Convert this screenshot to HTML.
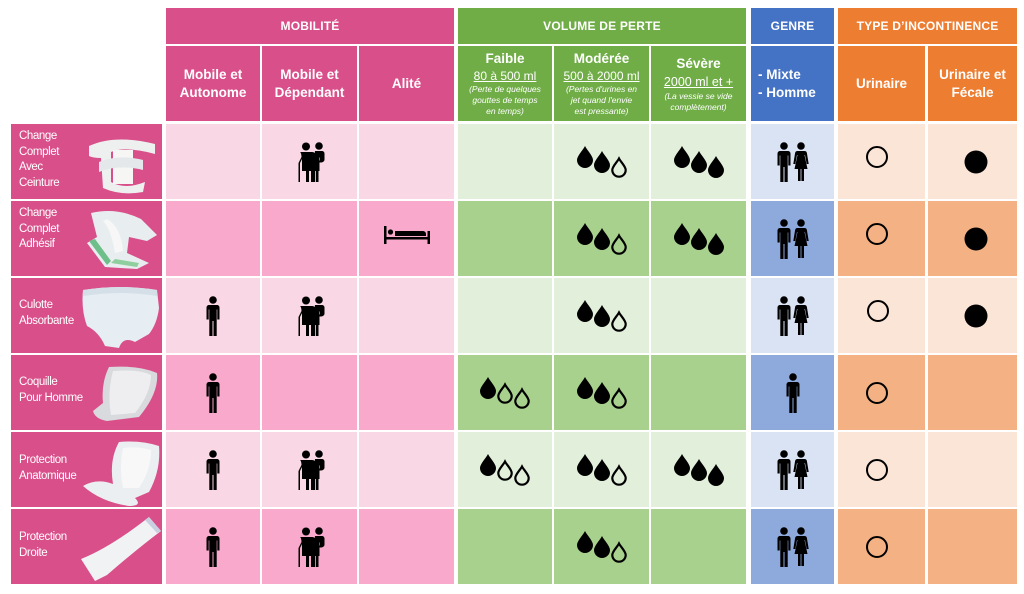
<!DOCTYPE html>
<html><head><meta charset="utf-8">
<style>
*{margin:0;padding:0;box-sizing:border-box}
body{width:1024px;height:594px;background:#fff;position:relative;overflow:hidden;font-family:"Liberation Sans",sans-serif}
.c{position:absolute;display:flex;align-items:center;justify-content:center;text-align:center;color:#fff}
.h1{font-weight:bold;font-size:12px;letter-spacing:0.2px}
.h2{font-weight:bold;font-size:13.5px;line-height:18px;flex-direction:column}
.u{text-decoration:underline;font-weight:normal;font-size:12px;line-height:16px}
.it{font-style:italic;font-weight:normal;font-size:8.5px;line-height:11px}
.lab{position:absolute;background:#d94f8a;color:#fff;font-size:11.5px;line-height:15.5px;letter-spacing:-0.4px}
.lab span{position:absolute;left:8px}
.lab svg{position:absolute}
</style></head><body>
<svg width="0" height="0" style="position:absolute">
<defs>
<symbol id="p" viewBox="0 0 14 40"><circle cx="7" cy="4" r="3.8"/><path d="M3 9h8a2.5 2.5 0 0 1 2.5 2.5v12h-2.2v-10h-.6v26.5h-3.2v-15h-1v15h-3.2v-26.5h-.6v10h-2.2v-12a2.5 2.5 0 0 1 2.5-2.5z"/></symbol>
<symbol id="w" viewBox="0 0 16 40"><circle cx="8" cy="4" r="3.8"/><path d="M4.5 9h7a2.5 2.5 0 0 1 2.4 2l1.8 11h-2l-1.7-9h-.5l3 14h-3.5v12h-2.6v-12h-.8v12h-2.6v-12h-3.5l3-14h-.5l-1.7 9h-2l1.8-11a2.5 2.5 0 0 1 2.4-2z"/></symbol>
<symbol id="e" viewBox="0 0 36 40"><circle cx="14" cy="4.5" r="4"/><circle cx="27" cy="4" r="3.8"/><path d="M8 10h12c3 0 5 3 5 6v13h-3v11h-3v-11h-2v11h-3v-11h-4v-12l-2 4v19h-1.5v-19l3-6c0-3 -1-5 -1.5-5z"/><path d="M23 9h7a2.5 2.5 0 0 1 2.5 2.5v6c0 2-2 3-4 3h-5v-2h4.5v-3h-.5v13.5h-1v11h-2.6v-11h-.8v11h-2.6v-11z"/></symbol>
<symbol id="b" viewBox="0 0 46 18"><rect x="0" y="0" width="2.5" height="18"/><rect x="43.5" y="5" width="2.5" height="13"/><rect x="0" y="11" width="46" height="2.5"/><circle cx="6.5" cy="6" r="2.6"/><path d="M11 5h28a3 3 0 0 1 3 3v2h-31z"/></symbol>
<symbol id="df" viewBox="0 0 16 22"><path d="M8 0C6 4 0 10 0 14a8 8 0 0 0 16 0C16 10 10 4 8 0z"/></symbol>
<symbol id="do" viewBox="0 0 16 22"><path d="M8 2.5C6.2 6 1.3 10.5 1.3 14a6.7 6.7 0 0 0 13.4 0C14.7 10.5 9.8 6 8 2.5z" fill="none" stroke="#000" stroke-width="2.2"/></symbol>
<symbol id="d21" viewBox="0 0 50 32"><use href="#df" x="0" y="0" width="16" height="22"/><use href="#df" x="17" y="5" width="16" height="22"/><use href="#do" x="34" y="10" width="16" height="22"/></symbol>
<symbol id="d30" viewBox="0 0 50 32"><use href="#df" x="0" y="0" width="16" height="22"/><use href="#df" x="17" y="5" width="16" height="22"/><use href="#df" x="34" y="10" width="16" height="22"/></symbol>
<symbol id="d12" viewBox="0 0 50 32"><use href="#df" x="0" y="0" width="16" height="22"/><use href="#do" x="17" y="5" width="16" height="22"/><use href="#do" x="34" y="10" width="16" height="22"/></symbol>
<symbol id="mw" viewBox="0 0 32 40"><use href="#p" x="0" y="0" width="14" height="40"/><use href="#w" x="16" y="0" width="16" height="40"/></symbol>
</defs></svg>

<!-- Header row 1 -->
<div class="c h1" style="left:166px;top:8px;width:288px;height:36px;background:#d94f8a">MOBILITÉ</div>
<div class="c h1" style="left:458px;top:8px;width:288px;height:36px;background:#70ad47">VOLUME DE PERTE</div>
<div class="c h1" style="left:751px;top:8px;width:83px;height:36px;background:#4472c4">GENRE</div>
<div class="c h1" style="left:838px;top:8px;width:179px;height:36px;background:#ed7d31">TYPE D’INCONTINENCE</div>

<!-- Header row 2 -->
<div class="c h2" style="left:166px;top:46px;width:94px;height:75px;background:#d94f8a">Mobile et<br>Autonome</div>
<div class="c h2" style="left:262px;top:46px;width:95px;height:75px;background:#d94f8a">Mobile et<br>Dépendant</div>
<div class="c h2" style="left:359px;top:46px;width:95px;height:75px;background:#d94f8a">Alité</div>
<div class="c h2" style="left:458px;top:46px;width:94px;height:75px;background:#70ad47;justify-content:flex-start;padding-top:4px">Faible<span class="u">80 à 500 ml</span><span class="it">(Perte de quelques<br>gouttes de temps<br>en temps)</span></div>
<div class="c h2" style="left:554px;top:46px;width:95px;height:75px;background:#70ad47;justify-content:flex-start;padding-top:4px">Modérée<span class="u">500 à 2000 ml</span><span class="it">(Pertes d'urines en<br>jet quand l'envie<br>est pressante)</span></div>
<div class="c h2" style="left:651px;top:46px;width:95px;height:75px;background:#70ad47;justify-content:flex-start;padding-top:9px">Sévère<span class="u" style="font-size:12.5px;line-height:18px">2000 ml et +</span><span class="it">(La vessie se vide<br>complètement)</span></div>
<div class="c h2" style="left:751px;top:46px;width:83px;height:75px;background:#4472c4;align-items:flex-start;padding-left:7px;text-align:left">- Mixte<br>- Homme</div>
<div class="c h2" style="left:838px;top:46px;width:87px;height:75px;background:#ed7d31">Urinaire</div>
<div class="c h2" style="left:928px;top:46px;width:89px;height:75px;background:#ed7d31">Urinaire et<br>Fécale</div>

<!-- Body cells: rows -->
<!-- Row backgrounds -->
<div style="position:absolute;left:0;top:0">
<!-- rows light: 124,278,432 ; dark: 201,355,509 -->
</div>

<!-- Row 1 (light) -->
<div class="c" style="left:166px;top:124px;width:94px;height:75px;background:#fad7e5"></div>
<div class="c" style="left:262px;top:124px;width:95px;height:75px;background:#fad7e5"><svg width="36" height="40"><use href="#e"/></svg></div>
<div class="c" style="left:359px;top:124px;width:95px;height:75px;background:#fad7e5"></div>
<div class="c" style="left:458px;top:124px;width:94px;height:75px;background:#e2efda"></div>
<div class="c" style="left:554px;top:124px;width:95px;height:75px;background:#e2efda"><svg width="50" height="32"><use href="#d21"/></svg></div>
<div class="c" style="left:651px;top:124px;width:95px;height:75px;background:#e2efda"><svg width="50" height="32"><use href="#d30"/></svg></div>
<div class="c" style="left:751px;top:124px;width:83px;height:75px;background:#dae3f3"><svg width="32" height="40"><use href="#mw"/></svg></div>
<div class="c" style="left:838px;top:124px;width:87px;height:75px;background:#fbe5d6"><svg width="24" height="24" style="margin-top:-10px;margin-left:-10px"><circle cx="12" cy="12" r="10" fill="none" stroke="#000" stroke-width="2"/></svg></div>
<div class="c" style="left:928px;top:124px;width:89px;height:75px;background:#fbe5d6"><svg width="26" height="26" style="margin-left:6px"><circle cx="13" cy="13" r="11.5"/></svg></div>

<!-- Row 2 (dark) -->
<div class="c" style="left:166px;top:201px;width:94px;height:75px;background:#f9a9cb"></div>
<div class="c" style="left:262px;top:201px;width:95px;height:75px;background:#f9a9cb"></div>
<div class="c" style="left:359px;top:201px;width:95px;height:75px;background:#f9a9cb"><svg width="46" height="18" style="margin-top:-8px"><use href="#b"/></svg></div>
<div class="c" style="left:458px;top:201px;width:94px;height:75px;background:#a9d18e"></div>
<div class="c" style="left:554px;top:201px;width:95px;height:75px;background:#a9d18e"><svg width="50" height="32"><use href="#d21"/></svg></div>
<div class="c" style="left:651px;top:201px;width:95px;height:75px;background:#a9d18e"><svg width="50" height="32"><use href="#d30"/></svg></div>
<div class="c" style="left:751px;top:201px;width:83px;height:75px;background:#8eaadc"><svg width="32" height="40"><use href="#mw"/></svg></div>
<div class="c" style="left:838px;top:201px;width:87px;height:75px;background:#f4b183"><svg width="24" height="24" style="margin-top:-10px;margin-left:-10px"><circle cx="12" cy="12" r="10" fill="none" stroke="#000" stroke-width="2"/></svg></div>
<div class="c" style="left:928px;top:201px;width:89px;height:75px;background:#f4b183"><svg width="26" height="26" style="margin-left:6px"><circle cx="13" cy="13" r="11.5"/></svg></div>

<!-- Row 3 (light) -->
<div class="c" style="left:166px;top:278px;width:94px;height:75px;background:#fad7e5"><svg width="14" height="40"><use href="#p"/></svg></div>
<div class="c" style="left:262px;top:278px;width:95px;height:75px;background:#fad7e5"><svg width="36" height="40"><use href="#e"/></svg></div>
<div class="c" style="left:359px;top:278px;width:95px;height:75px;background:#fad7e5"></div>
<div class="c" style="left:458px;top:278px;width:94px;height:75px;background:#e2efda"></div>
<div class="c" style="left:554px;top:278px;width:95px;height:75px;background:#e2efda"><svg width="50" height="32"><use href="#d21"/></svg></div>
<div class="c" style="left:651px;top:278px;width:95px;height:75px;background:#e2efda"></div>
<div class="c" style="left:751px;top:278px;width:83px;height:75px;background:#dae3f3"><svg width="32" height="40"><use href="#mw"/></svg></div>
<div class="c" style="left:838px;top:278px;width:87px;height:75px;background:#fbe5d6"><svg width="24" height="24" style="margin-top:-10px;margin-left:-8px"><circle cx="12" cy="12" r="10" fill="none" stroke="#000" stroke-width="2"/></svg></div>
<div class="c" style="left:928px;top:278px;width:89px;height:75px;background:#fbe5d6"><svg width="26" height="26" style="margin-left:6px"><circle cx="13" cy="13" r="11.5"/></svg></div>

<!-- Row 4 (dark) -->
<div class="c" style="left:166px;top:355px;width:94px;height:75px;background:#f9a9cb"><svg width="14" height="40"><use href="#p"/></svg></div>
<div class="c" style="left:262px;top:355px;width:95px;height:75px;background:#f9a9cb"></div>
<div class="c" style="left:359px;top:355px;width:95px;height:75px;background:#f9a9cb"></div>
<div class="c" style="left:458px;top:355px;width:94px;height:75px;background:#a9d18e"><svg width="50" height="32"><use href="#d12"/></svg></div>
<div class="c" style="left:554px;top:355px;width:95px;height:75px;background:#a9d18e"><svg width="50" height="32"><use href="#d21"/></svg></div>
<div class="c" style="left:651px;top:355px;width:95px;height:75px;background:#a9d18e"></div>
<div class="c" style="left:751px;top:355px;width:83px;height:75px;background:#8eaadc"><svg width="14" height="40"><use href="#p"/></svg></div>
<div class="c" style="left:838px;top:355px;width:87px;height:75px;background:#f4b183"><svg width="24" height="24" style="margin-left:-10px"><circle cx="12" cy="12" r="10" fill="none" stroke="#000" stroke-width="2"/></svg></div>
<div class="c" style="left:928px;top:355px;width:89px;height:75px;background:#f4b183"></div>

<!-- Row 5 (light) -->
<div class="c" style="left:166px;top:432px;width:94px;height:75px;background:#fad7e5"><svg width="14" height="40"><use href="#p"/></svg></div>
<div class="c" style="left:262px;top:432px;width:95px;height:75px;background:#fad7e5"><svg width="36" height="40"><use href="#e"/></svg></div>
<div class="c" style="left:359px;top:432px;width:95px;height:75px;background:#fad7e5"></div>
<div class="c" style="left:458px;top:432px;width:94px;height:75px;background:#e2efda"><svg width="50" height="32"><use href="#d12"/></svg></div>
<div class="c" style="left:554px;top:432px;width:95px;height:75px;background:#e2efda"><svg width="50" height="32"><use href="#d21"/></svg></div>
<div class="c" style="left:651px;top:432px;width:95px;height:75px;background:#e2efda"><svg width="50" height="32"><use href="#d30"/></svg></div>
<div class="c" style="left:751px;top:432px;width:83px;height:75px;background:#dae3f3"><svg width="32" height="40"><use href="#mw"/></svg></div>
<div class="c" style="left:838px;top:432px;width:87px;height:75px;background:#fbe5d6"><svg width="24" height="24" style="margin-left:-10px"><circle cx="12" cy="12" r="10" fill="none" stroke="#000" stroke-width="2"/></svg></div>
<div class="c" style="left:928px;top:432px;width:89px;height:75px;background:#fbe5d6"></div>

<!-- Row 6 (dark) -->
<div class="c" style="left:166px;top:509px;width:94px;height:75px;background:#f9a9cb"><svg width="14" height="40"><use href="#p"/></svg></div>
<div class="c" style="left:262px;top:509px;width:95px;height:75px;background:#f9a9cb"><svg width="36" height="40"><use href="#e"/></svg></div>
<div class="c" style="left:359px;top:509px;width:95px;height:75px;background:#f9a9cb"></div>
<div class="c" style="left:458px;top:509px;width:94px;height:75px;background:#a9d18e"></div>
<div class="c" style="left:554px;top:509px;width:95px;height:75px;background:#a9d18e"><svg width="50" height="32"><use href="#d21"/></svg></div>
<div class="c" style="left:651px;top:509px;width:95px;height:75px;background:#a9d18e"></div>
<div class="c" style="left:751px;top:509px;width:83px;height:75px;background:#8eaadc"><svg width="32" height="40"><use href="#mw"/></svg></div>
<div class="c" style="left:838px;top:509px;width:87px;height:75px;background:#f4b183"><svg width="24" height="24" style="margin-left:-10px"><circle cx="12" cy="12" r="10" fill="none" stroke="#000" stroke-width="2"/></svg></div>
<div class="c" style="left:928px;top:509px;width:89px;height:75px;background:#f4b183"></div>

<!-- Left labels -->
<div class="lab" style="left:11px;top:124px;width:151px;height:75px">
<span style="top:5px">Change<br>Complet<br>Avec<br>Ceinture</span>
<svg style="left:74px;top:8px" width="74" height="62"><path d="M4 14 Q30 2 70 12 L70 22 Q40 14 26 20 L26 50 Q40 58 60 50 L58 60 Q36 64 18 56 L16 26 Q8 26 4 24Z" fill="#eef0f0"/><rect x="28" y="18" width="20" height="34" fill="#f6f6f4"/><path d="M14 30 Q34 22 58 28 L58 38 Q34 32 14 40Z" fill="#e4e8ea"/></svg>
</div>
<div class="lab" style="left:11px;top:201px;width:151px;height:75px">
<span style="top:5px">Change<br>Complet<br>Adhésif</span>
<svg style="left:66px;top:6px" width="84" height="66"><path d="M14 6 Q40 0 64 12 L80 28 L70 34 L52 30 L50 46 L72 56 L60 62 L28 60 L10 36 L20 30Z" fill="#e8eef0"/><path d="M12 34 L30 58 L34 54 L18 32Z" fill="#6fbf8a"/><path d="M34 56 L60 60 L62 56 L38 52Z" fill="#8fcf9e"/><path d="M30 12 Q44 20 46 44 L38 46 Q34 22 26 14Z" fill="#f6f7f6"/></svg>
</div>
<div class="lab" style="left:11px;top:278px;width:151px;height:75px">
<span style="top:20px">Culotte<br>Absorbante</span>
<svg style="left:68px;top:6px" width="82" height="66"><path d="M4 6 Q42 0 78 6 L80 24 Q78 40 70 50 L56 58 Q44 52 40 64 L26 62 Q20 48 8 42 Q2 26 4 6Z" fill="#e6edf3"/><path d="M4 6 Q42 0 78 6 L78 12 Q42 6 4 12Z" fill="#d5dfe8"/></svg>
</div>
<div class="lab" style="left:11px;top:355px;width:151px;height:75px">
<span style="top:20px">Coquille<br>Pour Homme</span>
<svg style="left:78px;top:8px" width="72" height="60"><path d="M20 4 Q50 2 68 10 Q70 30 50 54 L18 58 Q6 56 4 48 L14 40 Q12 20 20 4Z" fill="#d9dadd"/><path d="M24 8 Q50 6 62 12 Q62 30 46 50 L22 52 Q18 30 24 8Z" fill="#eeeef0"/></svg>
</div>
<div class="lab" style="left:11px;top:432px;width:151px;height:75px">
<span style="top:21px">Protection<br>Anatomique</span>
<svg style="left:68px;top:8px" width="84" height="66"><path d="M40 2 Q62 0 80 6 Q82 30 70 52 L56 58 Q64 66 50 66 Q22 62 4 46 Q18 38 34 44 Q30 20 40 2Z" fill="#eceff2"/><path d="M44 8 Q58 6 72 10 Q72 30 60 48 L44 48 Q40 28 44 8Z" fill="#f8f8f9"/></svg>
</div>
<div class="lab" style="left:11px;top:509px;width:151px;height:75px">
<span style="top:21px">Protection<br>Droite</span>
<svg style="left:66px;top:6px" width="86" height="66"><path d="M72 2 L84 16 Q60 34 30 60 L18 66 L4 44 Q34 32 72 2Z" fill="#f1f2f4"/><path d="M72 2 L84 16 L80 18 L68 5Z" fill="#c9cfe0"/></svg>
</div>
</body></html>
